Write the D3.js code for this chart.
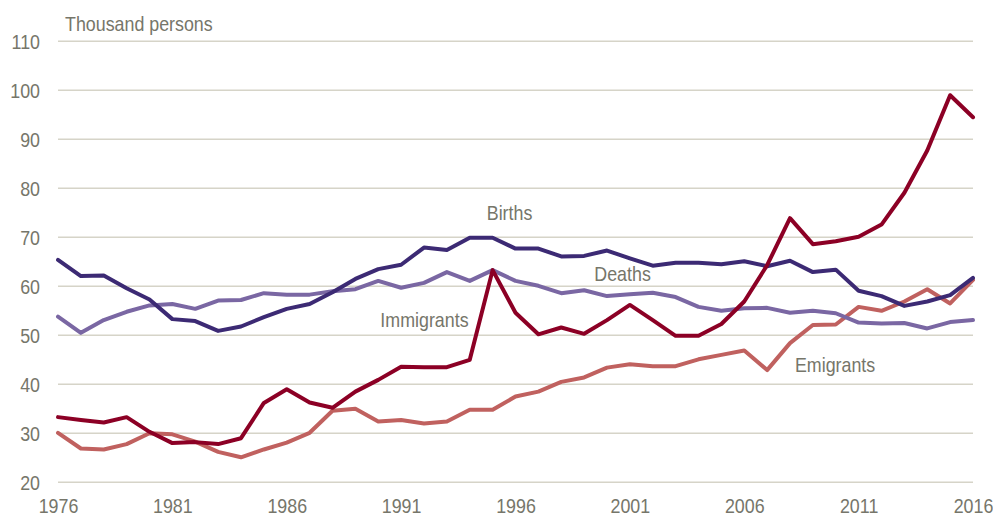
<!DOCTYPE html>
<html>
<head>
<meta charset="utf-8">
<script src="https://cdn.jsdelivr.net/npm/d3@7"></script>
<style>
  html, body { margin: 0; padding: 0; background: #fff; }
  svg text { font-family: "Liberation Sans Narrow", "Arial Narrow", "Liberation Sans", Arial, sans-serif; fill: #76766a; }
</style>
</head>
<body>
<svg id="chart" width="993" height="518"></svg>
<script>
const years = d3.range(1976, 2017);
const births = [65.4, 62.1, 62.2, 59.6, 57.3, 53.3, 52.9, 50.9, 51.8, 53.7, 55.4, 56.4, 58.8,
  61.5, 63.5, 64.4, 67.9, 67.4, 69.9, 69.9, 67.7, 67.7, 66.1, 66.2, 67.3, 65.7, 64.2,
  64.8, 64.8, 64.5, 65.1, 64.1, 65.2, 62.9, 63.4, 59.1, 58.0, 56.0, 56.9, 58.2, 61.7];
const deaths = [53.8, 50.5, 53.1, 54.8, 56.1, 56.4, 55.4, 57.1, 57.2, 58.6, 58.3, 58.3, 59.0,
  59.4, 61.1, 59.7, 60.7, 62.9, 61.1, 63.3, 61.1, 60.1, 58.6, 59.2, 58.0, 58.4, 58.7,
  57.8, 55.8, 55.0, 55.5, 55.6, 54.6, 55.0, 54.5, 52.6, 52.4, 52.5, 51.4, 52.7, 53.1];
const immigrants = [33.3, 32.7, 32.2, 33.3, 30.3, 28.0, 28.2, 27.8, 29.0, 36.2, 39.0, 36.3, 35.2,
  38.5, 40.9, 43.6, 43.5, 43.5, 45.0, 63.3, 54.6, 50.2, 51.6, 50.3, 53.1, 56.2, 53.1,
  49.9, 49.9, 52.3, 56.9, 64.3, 73.9, 68.6, 69.2, 70.1, 72.6, 79.1, 87.7, 99.0, 94.5];
const emigrants = [30.1, 26.9, 26.7, 27.8, 30.0, 29.8, 28.3, 26.2, 25.1, 26.7, 28.1, 30.1, 34.6,
  35.0, 32.4, 32.7, 32.0, 32.4, 34.8, 34.8, 37.5, 38.5, 40.5, 41.4, 43.4, 44.1, 43.7,
  43.7, 45.1, 46.0, 46.9, 42.9, 48.4, 52.1, 52.2, 55.8, 55.0, 56.9, 59.4, 56.5, 61.3];
const yTicks = [20, 30, 40, 50, 60, 70, 80, 90, 100, 110];
const xTicks = [1976, 1981, 1986, 1991, 1996, 2001, 2006, 2011, 2016];
const unitLabel = "Thousand persons";

const series = [
  { name: "Births", values: births, color: "#3c2a74", label: [1995.74, 73.5] },
  { name: "Deaths", values: deaths, color: "#7a67a3", label: [2000.68, 61.1] },
  { name: "Immigrants", values: immigrants, color: "#8c0025", label: [1992.02, 51.7] },
  { name: "Emigrants", values: emigrants, color: "#c0615f", label: [2009.97, 42.6] }
];
const drawOrder = [series[3], series[1], series[0], series[2]];

const SX = 0.85;      // horizontal condensing to mimic a narrow font
const FS = "21px";

const svg = d3.select("#chart");
const x = d3.scaleLinear().domain([1976, 2016]).range([58, 973]);
const y = d3.scaleLinear().domain([20, 110]).range([482.3, 41.3]);

// gridlines
svg.append("g").selectAll("line").data(yTicks).join("line")
  .attr("x1", 58).attr("x2", 973)
  .attr("y1", d => y(d)).attr("y2", d => y(d))
  .attr("stroke", "#d6d4c8").attr("stroke-width", 1.5);

// y axis labels
const yAxis = d3.axisLeft(y).tickValues(yTicks).tickSize(0).tickPadding(0).tickFormat(d3.format("d"));
const gy = svg.append("g").attr("transform", "translate(40,0)").call(yAxis);
gy.select(".domain").remove();
gy.selectAll("text").style("font-size", FS).attr("x", 0).attr("dy", "0.36em")
  .attr("fill", "#76766a").attr("transform", `scale(${SX},1)`);

// x axis labels
const xAxis = d3.axisBottom(x).tickValues(xTicks).tickSize(0).tickPadding(0).tickFormat(d3.format("d"));
const gx = svg.append("g").attr("transform", "translate(0,498)").call(xAxis);
gx.select(".domain").remove();
gx.selectAll("text").style("font-size", FS).attr("y", 0).attr("dy", "0.72em")
  .attr("fill", "#76766a").attr("transform", `scale(${SX},1)`);

// lines
const line = d3.line().x((d, i) => x(years[i])).y(d => y(d));
svg.append("g").selectAll("path").data(drawOrder).join("path")
  .attr("d", d => line(d.values))
  .attr("fill", "none")
  .attr("stroke", d => d.color)
  .attr("stroke-width", 4)
  .attr("stroke-linejoin", "round")
  .attr("stroke-linecap", "round");

// series labels
svg.append("g").selectAll("text").data(series).join("text")
  .attr("transform", d => `translate(${x(d.label[0])},${y(d.label[1])}) scale(${SX},1)`)
  .attr("text-anchor", "middle")
  .style("font-size", FS)
  .text(d => d.name);

// unit label
svg.append("text").attr("transform", `translate(65,31) scale(${SX},1)`)
  .style("font-size", FS).text(unitLabel);
</script>
</body>
</html>
